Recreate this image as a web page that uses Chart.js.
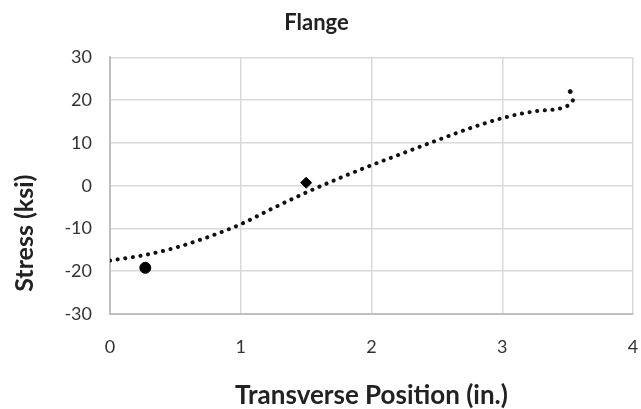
<!DOCTYPE html>
<html>
<head>
<meta charset="utf-8">
<script src="https://cdn.jsdelivr.net/npm/chart.js@4"></script>
<style>
  html, body { margin: 0; padding: 0; background: #fff; }
  #wrap { width: 641px; height: 409px; }
</style>
</head>
<body>
<div id="wrap"><canvas id="c" width="641" height="409"></canvas></div>
<script>
// Fitted stress profile across the flange (dotted curve)
const fitX = [0, 0.25, 0.5, 0.75, 1, 1.25, 1.5, 1.75, 2, 2.25, 2.5, 2.75, 3, 3.25, 3.5, 3.55];
const fitY = [-17.5, -16.3, -14.5, -12, -9, -5.2, -1.6, 1.7, 4.8, 7.7, 10.6, 13.4, 15.8, 17.4, 18.7, 20.3];

// Measured gauge readings
const circleX = [0.27];
const circleY = [-19.2];
const diamondX = [1.5];
const diamondY = [0.7];
const edgeX = [3.52];
const edgeY = [22];

const xTicks = [0, 1, 2, 3, 4];
const yTicks = [-30, -20, -10, 0, 10, 20, 30];

const chartTitle = 'Flange';
const xTitle = 'Transverse Position (in.)';
const yTitle = 'Stress (ksi)';

const pts = (xs, ys) => xs.map((x, i) => ({ x: x, y: ys[i] }));

const FONT = "Lato, 'Open Sans', sans-serif";
const TEXT = '#222';
const TICK = '#333';

// Vertical axis title, centred on the space below the chart title
const yTitlePlugin = {
  id: 'yTitle',
  afterDraw(chart) {
    const ctx = chart.ctx;
    const cy = (chart.chartArea.top + chart.height) / 2;
    ctx.save();
    ctx.translate(25, cy);
    ctx.rotate(-Math.PI / 2);
    ctx.font = 'bold 25px ' + FONT;
    ctx.fillStyle = TEXT;
    ctx.textAlign = 'center';
    ctx.textBaseline = 'middle';
    ctx.fillText(yTitle, 0, 0);
    ctx.restore();
  }
};

new Chart(document.getElementById('c'), {
  type: 'scatter',
  data: {
    datasets: [
      {
        label: 'Fit',
        type: 'line',
        data: pts(fitX, fitY),
        borderColor: '#111',
        borderWidth: 4,
        borderDash: [0.1, 7.6],
        borderCapStyle: 'round',
        cubicInterpolationMode: 'monotone',
        pointRadius: 0,
        fill: false
      },
      {
        label: 'Gauge A',
        data: pts(circleX, circleY),
        pointStyle: 'circle',
        pointRadius: 5.5,
        backgroundColor: '#000',
        borderColor: '#000'
      },
      {
        label: 'Gauge B',
        data: pts(diamondX, diamondY),
        pointStyle: 'rectRot',
        pointRadius: 5.5,
        backgroundColor: '#000',
        borderColor: '#000'
      },
      {
        label: 'Gauge C',
        data: pts(edgeX, edgeY),
        pointStyle: 'circle',
        pointRadius: 2,
        backgroundColor: '#111',
        borderColor: '#111'
      }
    ]
  },
  plugins: [yTitlePlugin],
  options: {
    responsive: false,
    animation: false,
    layout: { padding: { left: 0, right: 8, top: 0, bottom: 0 } },
    plugins: {
      legend: { display: false },
      tooltip: { enabled: false },
      title: {
        display: true,
        text: chartTitle,
        color: TEXT,
        font: { family: FONT, size: 22, weight: 'bold', lineHeight: 1.2 },
        padding: { top: 10, bottom: 21 }
      }
    },
    scales: {
      x: {
        type: 'linear',
        min: 0,
        max: 4,
        afterBuildTicks: s => { s.ticks = xTicks.map(v => ({ value: v })); },
        afterFit: s => { s.height = 95; s.paddingLeft = 0; s.paddingRight = 0; },
        grid: { color: '#d9d9d9', lineWidth: 1.5, drawTicks: false },
        border: { color: '#bfbfbf', width: 2 },
        ticks: {
          color: TICK,
          padding: 22,
          font: { family: FONT, size: 18 }
        },
        title: {
          display: true,
          text: xTitle,
          color: TEXT,
          font: { family: FONT, size: 26, weight: 'bold', lineHeight: 1 },
          padding: { top: 10, bottom: 0 }
        }
      },
      y: {
        type: 'linear',
        min: -30,
        max: 30,
        afterBuildTicks: s => { s.ticks = yTicks.map(v => ({ value: v })); },
        afterFit: s => { s.width = 110; s.paddingTop = 0; s.paddingBottom = 0; },
        grid: { color: '#d9d9d9', lineWidth: 1.5, drawTicks: false },
        border: { color: '#bfbfbf', width: 2 },
        ticks: {
          color: TICK,
          padding: 18,
          font: { family: FONT, size: 18 }
        },
        title: { display: false }
      }
    }
  }
});
</script>
</body>
</html>
